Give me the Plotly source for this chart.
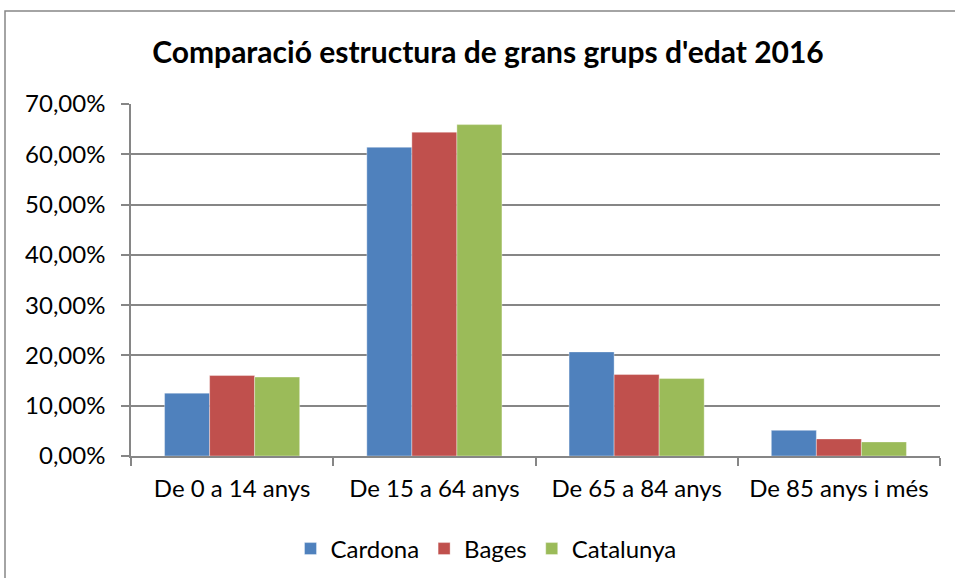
import plotly.graph_objects as go

categories = ["De 0 a 14 anys", "De 15 a 64 anys", "De 65 a 84 anys", "De 85 anys i més"]
cardona = [12.5, 61.4, 20.7, 5.1]
bages = [16.0, 64.4, 16.2, 3.4]
catalunya = [15.7, 65.9, 15.4, 2.8]
y_ticks = [0, 10, 20, 30, 40, 50, 60, 70]
y_tick_labels = ["0,00%", "10,00%", "20,00%", "30,00%", "40,00%", "50,00%", "60,00%", "70,00%"]

series = [("Cardona", cardona, "#4F81BD"), ("Bages", bages, "#C0504D"), ("Catalunya", catalunya, "#9BBB59")]

FONT = "Lato"
fig = go.Figure()
for name, vals, col in series:
    fig.add_trace(go.Bar(x=categories, y=vals, name=name, marker=dict(color=col, line=dict(width=0.6, color="rgba(255,255,255,0.6)"))))

W, H = 955, 578
L, R, T, B = 131, 15, 104, 122
pw, ph = W - L - R, H - T - B

def px(x):
    return (x - L) / pw

def py(y):
    return (H - B - y) / ph

fig.update_layout(
    width=W, height=H,
    margin=dict(l=L, r=R, t=T, b=B, autoexpand=False),
    paper_bgcolor="white", plot_bgcolor="white",
    barmode="group", bargap=0.332, bargroupgap=0,
    font=dict(family=FONT, size=24, color="#000000"),
    title=dict(text="<b>Comparació estructura de grans grups d'edat 2016</b>", x=488 / W, xanchor="center", xref="container",
               y=1 - 52 / H, yanchor="middle", yref="container",
               font=dict(family=FONT, size=30, color="#000000")),
    legend=dict(orientation="h", x=486 / W, xanchor="center", xref="container", y=1 - 549 / H, yanchor="middle", yref="container",
                font=dict(family=FONT, size=24), itemwidth=30, traceorder="normal"),
    xaxis=dict(showline=True, linecolor="#868686", linewidth=1.5, ticks="outside", tickson="boundaries",
               ticklen=8, tickcolor="#868686", tickwidth=1.5, showgrid=False, ticklabelstandoff=10,
               tickfont=dict(size=24), automargin=False),
    yaxis=dict(range=[0, 70], tickvals=y_ticks, ticktext=y_tick_labels, showline=True, linecolor="#868686",
               linewidth=1.5, ticks="outside", ticklen=8, tickcolor="#868686", tickwidth=1.5,
               showgrid=True, gridcolor="#868686", gridwidth=1.5, zeroline=False, ticklabelstandoff=11,
               tickfont=dict(size=24), automargin=False),
    shapes=[dict(type="rect", xref="paper", yref="paper", x0=px(5), x1=px(960), y0=py(11), y1=py(590),
                 line=dict(color="#868686", width=1.5), fillcolor="rgba(0,0,0,0)", layer="below")],
)

fig.write_html("out.html", config={"displayModeBar": False},
               post_script="document.body.style.margin='0';document.body.style.padding='0';")
